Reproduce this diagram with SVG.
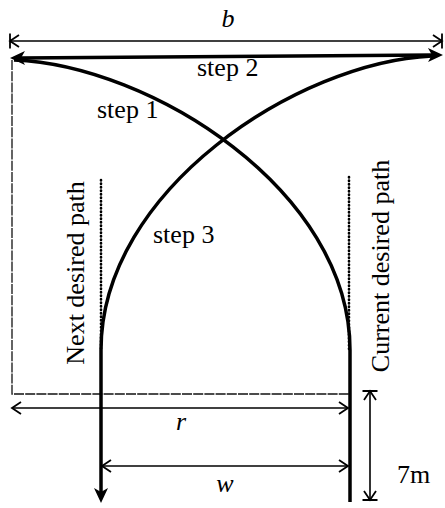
<svg xmlns="http://www.w3.org/2000/svg" width="445" height="508" viewBox="0 0 445 508">
<style>
text{font-family:'Times New Roman','Liberation Serif',Tinos,'DejaVu Serif',serif;font-size:26px;fill:#000}
.it{font-style:italic}
.thick{fill:none;stroke:#000;stroke-width:3.5}
.dim{fill:none;stroke:#000;stroke-width:1.6}
.frame{fill:none;stroke:#111;stroke-width:1.3;stroke-dasharray:10 1.2}
.dots{fill:none;stroke:#000;stroke-width:2.6;stroke-linecap:round;stroke-dasharray:0.5 3}
</style>
<defs>
<marker id="solid" viewBox="-6 -8 18 16" refX="0" refY="0" markerWidth="18" markerHeight="16" markerUnits="userSpaceOnUse" orient="auto-start-reverse">
<path d="M-5,-7 L10,0 L-5,7 L-1,0 z" fill="#000"/>
</marker>
<marker id="openTick" viewBox="-12 -9 14 18" refX="0" refY="0" markerWidth="14" markerHeight="18" markerUnits="userSpaceOnUse" orient="auto-start-reverse">
<path d="M-9,-6 L0,0 L-9,6 M0,-7.5 V7.5" fill="none" stroke="#000" stroke-width="1.8"/>
</marker>
<marker id="open" viewBox="-12 -8 14 16" refX="0" refY="0" markerWidth="14" markerHeight="16" markerUnits="userSpaceOnUse" orient="auto-start-reverse">
<path d="M-9,-6 L0,0 L-9,6" fill="none" stroke="#000" stroke-width="1.8"/>
</marker>
</defs>

<g id="frame">
<path class="frame" d="M12,60 V394 H350"/>
</g>

<g id="desired-paths">
<path class="dots" d="M101,180 V350"/>
<path class="dots" d="M349,177 V350"/>
</g>

<g id="connectors">
<path id="step2-line" class="thick" d="M20,58 L433,55" stroke-width="4" marker-start="url(#solid)" marker-end="url(#solid)"/>
<path id="step1-curve" class="thick" d="M350,502 V350 C350,190 150,65 14,60"/>
<path id="step3-curve" class="thick" d="M432,56 C298,62 101,190 101,350 V493" marker-end="url(#solid)"/>
<path id="dim-b" class="dim" d="M10,41 H442" marker-start="url(#openTick)" marker-end="url(#openTick)"/>
<path id="dim-r" class="dim" d="M12,408 H348" marker-start="url(#open)" marker-end="url(#open)"/>
<path id="dim-w" class="dim" d="M102,466 H348" marker-start="url(#open)" marker-end="url(#open)"/>
<path id="dim-7m" class="dim" d="M370,391 V500" marker-start="url(#openTick)" marker-end="url(#openTick)"/>
</g>

<g id="labels">
<text class="it" x="228" y="27" text-anchor="middle">b</text>
<text x="197" y="76">step 2</text>
<text x="97" y="118">step 1</text>
<text x="153" y="243">step 3</text>
<text transform="translate(84,273) rotate(-90)" text-anchor="middle">Next desired path</text>
<text transform="translate(389,266) rotate(-90)" text-anchor="middle">Current desired path</text>
<text class="it" x="181" y="430" text-anchor="middle">r</text>
<text class="it" x="225" y="492" text-anchor="middle">w</text>
<text x="397" y="483">7m</text>
</g>
</svg>
